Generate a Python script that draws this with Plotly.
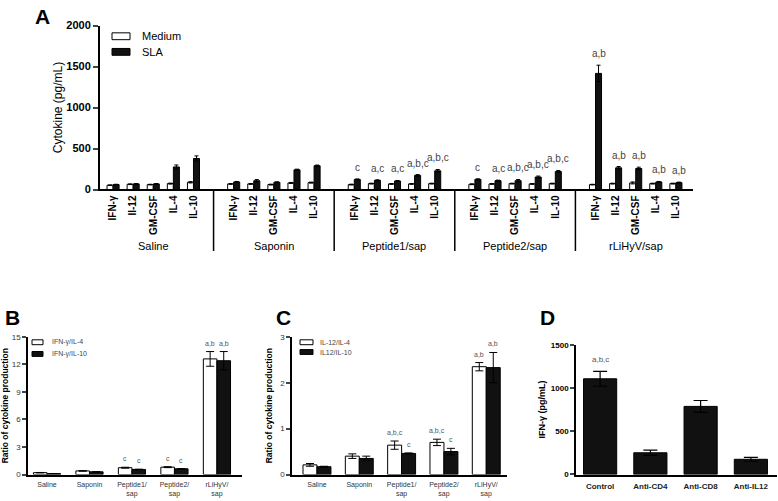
import plotly.graph_objects as go

# ---------------- data ----------------
groups = ["Saline", "Saponin", "Peptide1/sap", "Peptide2/sap", "rLiHyV/sap"]
cytokines = ["IFN-\u03b3", "Il-12", "GM-CSF", "IL-4", "IL-10"]
medium = [52, 64, 60, 72, 88,
          68, 68, 60, 80, 84,
          60, 72, 68, 68, 72,
          64, 68, 72, 68, 72,
          60, 72, 80, 72, 72]
medium_err = [4, 4, 4, 6, 8,
              5, 5, 5, 6, 6,
              5, 5, 5, 5, 5,
              5, 5, 5, 5, 5,
              4, 5, 12, 5, 5]
sla = [60, 68, 68, 275, 378,
       92, 107, 88, 240, 290,
       123, 112, 104, 172, 228,
       124, 108, 108, 152, 220,
       1416, 264, 256, 92, 84]
sla_err = [4, 5, 5, 24, 32,
           6, 14, 6, 8, 8,
           6, 6, 6, 10, 16,
           6, 6, 14, 12, 12,
           100, 16, 16, 6, 6]
sla_sig = ["", "", "", "", "",
           "", "", "", "", "",
           "c", "a,c", "a,c", "a,b,c", "a,b,c",
           "c", "a,c", "a,b,c", "a,b,c", "a,b,c",
           "a,b", "a,b", "a,b", "a,b", "a,b"]

ratio_groups = ["Saline", "Saponin", "Peptide1/<br>sap", "Peptide2/<br>sap", "rLiHyV/<br>sap"]
ifn_il4 = [0.20, 0.39, 0.74, 0.80, 12.6]
ifn_il4_err = [0.02, 0.03, 0.05, 0.05, 0.8]
ifn_il10 = [0.10, 0.29, 0.55, 0.62, 12.4]
ifn_il10_err = [0.01, 0.02, 0.03, 0.03, 1.0]
b_sig_white = ["", "", "c", "c", "a,b"]
b_sig_black = ["", "", "c", "c", "a,b"]

il12_il4 = [0.21, 0.40, 0.64, 0.70, 2.35]
il12_il4_err = [0.03, 0.05, 0.09, 0.07, 0.09]
il12_il10 = [0.17, 0.35, 0.46, 0.50, 2.33]
il12_il10_err = [0.01, 0.05, 0.01, 0.07, 0.33]
c_sig_white = ["", "", "a,b,c", "a,b,c", "a,b"]
c_sig_black = ["", "", "c", "c", "a,b"]

blocking = ["Control", "Anti-CD4", "Anti-CD8", "Anti-IL12"]
ifn_block = [1106, 251, 787, 176]
ifn_block_err = [86, 30, 68, 23]
d_sig = ["a,b,c", "", "", ""]

# ---------------- helpers ----------------
W, H = 778, 501
FONT = "Liberation Sans, Arial, sans-serif"
WHITE = "white"
BLACK = "#111111"


def px(x):
    return x / W


def py(y):
    return 1 - y / H


fig = go.Figure()
annotations = []
shapes = []


def legend_key(x0, x1, yc, h, fill, label, tx, size, color):
    shapes.append(dict(type="rect", xref="paper", yref="paper",
                       x0=px(x0), x1=px(x1), y0=py(yc + h / 2), y1=py(yc - h / 2),
                       fillcolor=fill, line=dict(color="black", width=1)))
    annotations.append(dict(x=px(tx), y=py(yc), xref="paper", yref="paper", text=label,
                            showarrow=False, xanchor="left", yanchor="middle",
                            font=dict(size=size, color=color, family=FONT)))


# ---------------- Panel A ----------------
n_c = len(cytokines)
xpos = [g * (n_c + 1) + i for g in range(len(groups)) for i in range(n_c)]
fig.add_trace(go.Bar(
    x=xpos, y=medium, width=0.3, offset=-0.3, name="Medium",
    marker=dict(color=WHITE, line=dict(color="black", width=1)),
    error_y=dict(type="data", array=medium_err, color="black", thickness=1, width=2),
    xaxis="x", yaxis="y"))
fig.add_trace(go.Bar(
    x=xpos, y=sla, width=0.3, offset=0, name="SLA",
    marker=dict(color=BLACK, line=dict(color="black", width=1)),
    error_y=dict(type="data", array=sla_err, color="black", thickness=1, width=2),
    xaxis="x", yaxis="y"))
for k, t in enumerate(sla_sig):
    if t:
        annotations.append(dict(x=xpos[k] + 0.15, y=sla[k] + sla_err[k], xref="x", yref="y",
                                text=t, showarrow=False, yanchor="bottom", yshift=4,
                                font=dict(size=10, color="#444", family=FONT)))
for g, name in enumerate(groups):
    annotations.append(dict(x=g * (n_c + 1) + (n_c - 1) / 2, y=py(246), xref="x", yref="paper",
                            text=name, showarrow=False, yanchor="middle",
                            font=dict(size=11, color="black", family=FONT)))
    if g < len(groups) - 1:
        shapes.append(dict(type="line", xref="x", yref="paper",
                           x0=g * (n_c + 1) + n_c, x1=g * (n_c + 1) + n_c,
                           y0=py(188), y1=py(251), line=dict(color="black", width=1.5)))
legend_key(112, 130, 31, 7, WHITE, "Medium", 140, 11, "black")
legend_key(112, 130, 47, 7, BLACK, "SLA", 140, 11, "black")

# ---------------- Panel B ----------------
rx = list(range(len(ratio_groups)))
fig.add_trace(go.Bar(
    x=rx, y=ifn_il4, width=0.32, offset=-0.32, name="IFN-\u03b3/IL-4",
    marker=dict(color=WHITE, line=dict(color="black", width=1)),
    error_y=dict(type="data", array=ifn_il4_err, color="black", thickness=1, width=4),
    xaxis="x2", yaxis="y2"))
fig.add_trace(go.Bar(
    x=rx, y=ifn_il10, width=0.32, offset=0, name="IFN-\u03b3/IL-10",
    marker=dict(color=BLACK, line=dict(color="black", width=1)),
    error_y=dict(type="data", array=ifn_il10_err, color="black", thickness=1, width=4),
    xaxis="x2", yaxis="y2"))
for k in rx:
    if b_sig_white[k]:
        annotations.append(dict(x=k - 0.16, y=ifn_il4[k] + ifn_il4_err[k], xref="x2", yref="y2",
                                text=b_sig_white[k], showarrow=False, yanchor="bottom", yshift=3,
                                font=dict(size=7, color="#555", family=FONT)))
    if b_sig_black[k]:
        annotations.append(dict(x=k + 0.16, y=ifn_il10[k] + ifn_il10_err[k], xref="x2", yref="y2",
                                text=b_sig_black[k], showarrow=False, yanchor="bottom", yshift=3,
                                font=dict(size=7, color="#555", family=FONT)))
legend_key(32, 43, 344.5, 5, WHITE, "IFN-\u03b3/IL-4", 50, 7, "#444")
legend_key(32, 43, 356.5, 5, BLACK, "IFN-\u03b3/IL-10", 50, 7, "#444")

# ---------------- Panel C ----------------
fig.add_trace(go.Bar(
    x=rx, y=il12_il4, width=0.33, offset=-0.33, name="IL-12/IL-4",
    marker=dict(color=WHITE, line=dict(color="black", width=1)),
    error_y=dict(type="data", array=il12_il4_err, color="black", thickness=1, width=4),
    xaxis="x3", yaxis="y3"))
fig.add_trace(go.Bar(
    x=rx, y=il12_il10, width=0.33, offset=0, name="IL12/IL-10",
    marker=dict(color=BLACK, line=dict(color="black", width=1)),
    error_y=dict(type="data", array=il12_il10_err, color="black", thickness=1, width=4),
    xaxis="x3", yaxis="y3"))
for k in rx:
    if c_sig_white[k]:
        annotations.append(dict(x=k - 0.165, y=il12_il4[k] + il12_il4_err[k], xref="x3", yref="y3",
                                text=c_sig_white[k], showarrow=False, yanchor="bottom", yshift=3,
                                font=dict(size=7, color="#555", family=FONT)))
    if c_sig_black[k]:
        annotations.append(dict(x=k + 0.165, y=il12_il10[k] + il12_il10_err[k], xref="x3", yref="y3",
                                text=c_sig_black[k], showarrow=False, yanchor="bottom", yshift=3,
                                font=dict(size=7, color="#555", family=FONT)))
legend_key(300, 313, 344.5, 5, WHITE, "IL-12/IL-4", 318, 7, "#444")
legend_key(300, 313, 354.5, 5, BLACK, "IL12/IL-10", 318, 7, "#444")

# ---------------- Panel D ----------------
dx = list(range(len(blocking)))
fig.add_trace(go.Bar(
    x=dx, y=ifn_block, width=0.66, name="IFN-\u03b3",
    marker=dict(color=BLACK, line=dict(color="black", width=1)),
    error_y=dict(type="data", array=ifn_block_err, color="black", thickness=1.2, width=7),
    xaxis="x4", yaxis="y4"))
for k in dx:
    if d_sig[k]:
        annotations.append(dict(x=k, y=ifn_block[k] + ifn_block_err[k], xref="x4", yref="y4",
                                text=d_sig[k], showarrow=False, yanchor="bottom", yshift=5,
                                font=dict(size=8, color="#555", family=FONT)))

# ---------------- panel letters ----------------
for letter, lx, ly in [("A", 42, 11), ("B", 12, 319), ("C", 283, 319), ("D", 547, 319)]:
    annotations.append(dict(x=px(lx), y=py(ly), xref="paper", yref="paper", text="<b>%s</b>" % letter,
                            showarrow=False, xanchor="center", yanchor="middle",
                            font=dict(size=21, color="black", family=FONT)))

axis_common = dict(showline=True, linecolor="black", showgrid=False, zeroline=False)

fig.update_layout(
    width=W, height=H, margin=dict(l=0, r=0, t=0, b=0),
    paper_bgcolor="white", plot_bgcolor="white",
    barmode="overlay", showlegend=False,
    font=dict(family=FONT, color="black"),
    xaxis=dict(domain=[px(100), px(693)], range=[-0.65, 28.85], anchor="y",
               tickmode="array", tickvals=xpos, ticktext=cytokines * len(groups),
               tickangle=-90, ticks="", linewidth=2,
               tickfont=dict(size=10, weight="bold", family=FONT), **axis_common),
    yaxis=dict(domain=[py(188), py(20)], range=[0, 2000], anchor="x",
               tickmode="array", tickvals=[0, 500, 1000, 1500, 2000],
               ticks="outside", ticklen=5, tickwidth=2, linewidth=2,
               tickfont=dict(size=11, weight="bold", family=FONT),
               title=dict(text="Cytokine (pg/mL)", font=dict(size=12, family=FONT), standoff=1),
               **axis_common),
    xaxis2=dict(domain=[px(28), px(242)], range=[-0.447, 4.59], anchor="y2",
                tickmode="array", tickvals=rx, ticktext=ratio_groups, ticks="", linewidth=1.5,
                ticklabelstandoff=2,
                tickfont=dict(size=7, color="#333", family=FONT), **axis_common),
    yaxis2=dict(domain=[py(480), py(339)], range=[0, 15], anchor="x2",
                tickmode="array", tickvals=[0, 3, 6, 9, 12, 15],
                ticks="outside", ticklen=4, tickwidth=1.5, linewidth=1.5,
                tickfont=dict(size=8, color="#333", family=FONT),
                title=dict(text="<b>Ratio of cytokine production</b>", font=dict(size=8.5, family=FONT), standoff=4),
                **axis_common),
    xaxis3=dict(domain=[px(292), px(507)], range=[-0.59, 4.49], anchor="y3",
                tickmode="array", tickvals=rx, ticktext=ratio_groups, ticks="", linewidth=1.5,
                ticklabelstandoff=2,
                tickfont=dict(size=7, color="#333", family=FONT), **axis_common),
    yaxis3=dict(domain=[py(480), py(339)], range=[0, 3], anchor="x3",
                tickmode="array", tickvals=[0, 1, 2, 3],
                ticks="outside", ticklen=4, tickwidth=1.5, linewidth=1.5,
                tickfont=dict(size=8, color="#333", family=FONT),
                title=dict(text="<b>Ratio of cytokine production</b>", font=dict(size=8.5, family=FONT), standoff=6),
                **axis_common),
    xaxis4=dict(domain=[px(576), px(777)], range=[-0.48, 3.52], anchor="y4",
                tickmode="array", tickvals=dx, ticktext=blocking, ticks="", linewidth=1.5,
                ticklabelstandoff=3,
                tickfont=dict(size=8, weight="bold", color="#222", family=FONT), **axis_common),
    yaxis4=dict(domain=[py(480), py(347)], range=[0, 1500], anchor="x4",
                tickmode="array", tickvals=[0, 500, 1000, 1500],
                ticks="outside", ticklen=4, tickwidth=1.5, linewidth=1.5,
                tickfont=dict(size=8, weight="bold", family=FONT),
                title=dict(text="<b>IFN-\u03b3 (pg/mL)</b>", font=dict(size=9, family=FONT), standoff=4),
                **axis_common),
    annotations=annotations, shapes=shapes,
)

fig.write_html("out.html", config={"displayModeBar": False},
               post_script="document.body.style.margin='0';document.body.style.overflow='hidden';")
